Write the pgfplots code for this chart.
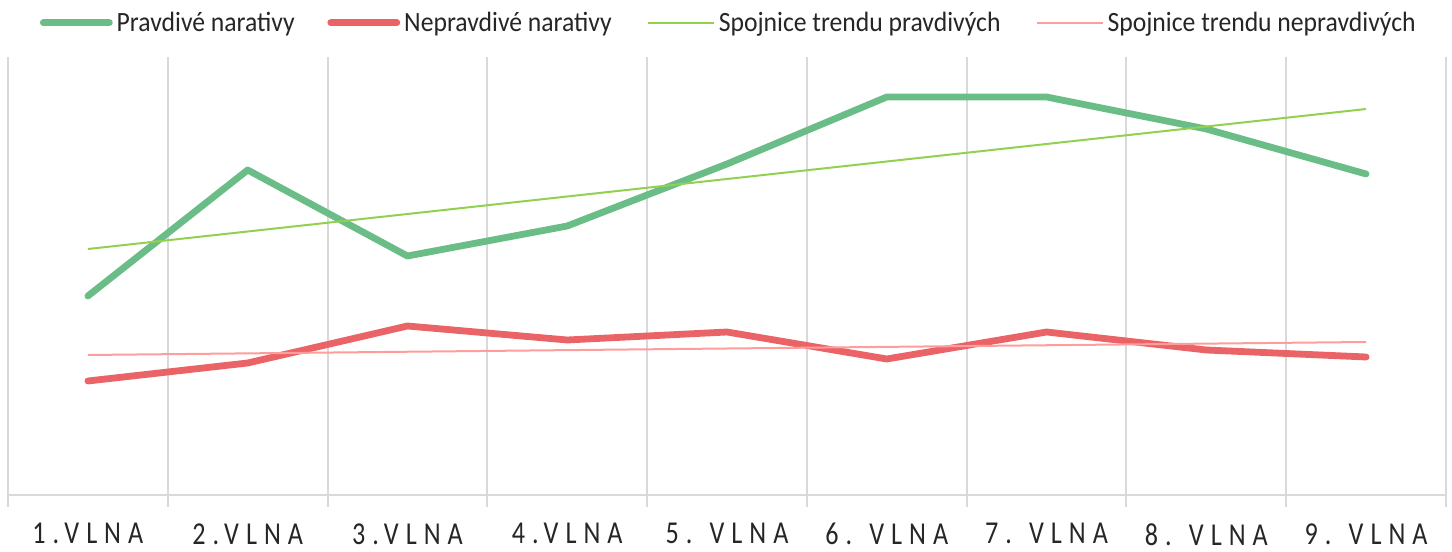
\documentclass[border=0pt]{standalone}
\usepackage{fontspec}
\setmainfont{Carlito}
\newfontfamily\tickfont[LetterSpace=22,FakeStretch=0.82]{Carlito}
\newfontfamily\legfont[FakeStretch=0.92]{Carlito}
\usepackage{pgfplots}
\pgfplotsset{compat=1.18}
\definecolor{tgreen}{HTML}{6BBD87}
\definecolor{tred}{HTML}{EA6467}
\definecolor{lgreen}{HTML}{92D050}
\definecolor{lpink}{HTML}{FF9C9C}
\definecolor{gridgray}{HTML}{D9D9D9}
\begin{document}
\begin{tikzpicture}
\begin{axis}[
  scale only axis,
  width=719bp, height=219bp,
  xmin=0.5, xmax=9.5, ymin=0, ymax=438,
  axis x line=bottom, axis y line=none,
  x axis line style={draw=gridgray, line width=1bp, -},
  xtick={1,...,9},
  xticklabels={1.VLNA,2.VLNA,3.VLNA,4.VLNA,5. VLNA,6. VLNA,7. VLNA,8. VLNA,9. VLNA},
  major tick length=0pt,
  minor xtick={0.5,1.5,...,9.5},
  minor tick length=6bp,
  tick align=outside,
  minor x tick style={draw=gridgray, line width=1bp},
  minor x grid style={draw=gridgray, line width=1bp},
  xminorgrids=true,
  ytick=\empty,
  x tick label style={font=\tickfont\fontsize{16}{18}\selectfont, text=black!85, inner sep=0pt, yshift=-14bp},
  legend style={draw=none, at={(axis description cs:0.492,1.078)}, anchor=center,
    font=\legfont\fontsize{14}{16}\selectfont, text=black!85, legend columns=4},
  legend image code/.code={\path[draw=none] (0bp,0bp) -- (16bp,0bp); \draw[#1] (16bp,0bp) -- (49bp,0bp);},
  clip=false,
]
\addplot[color=tgreen, line width=3.4bp, line cap=round, line join=round] coordinates {(1,199) (2,325) (3,239) (4,269) (5,331) (6,398) (7,398) (8,366) (9,321)};
\addlegendentry{Pravdivé narativy}
\addplot[color=tred, line width=3.4bp, line cap=round, line join=round] coordinates {(1,114) (2,132) (3,169) (4,155) (5,163) (6,136) (7,163) (8,145) (9,138)};
\addlegendentry{Nepravdivé narativy}
\addplot[color=lgreen, line width=1bp] coordinates {(1,246) (9,386)};
\addlegendentry{Spojnice trendu pravdivých}
\addplot[color=lpink, line width=1bp] coordinates {(1,140) (9,153)};
\addlegendentry{Spojnice trendu nepravdivých}
\end{axis}
\path (current axis.south west) ++(-4bp,-28.5bp);
\path (current axis.north east) ++(3bp,28.5bp);
\end{tikzpicture}
\end{document}
